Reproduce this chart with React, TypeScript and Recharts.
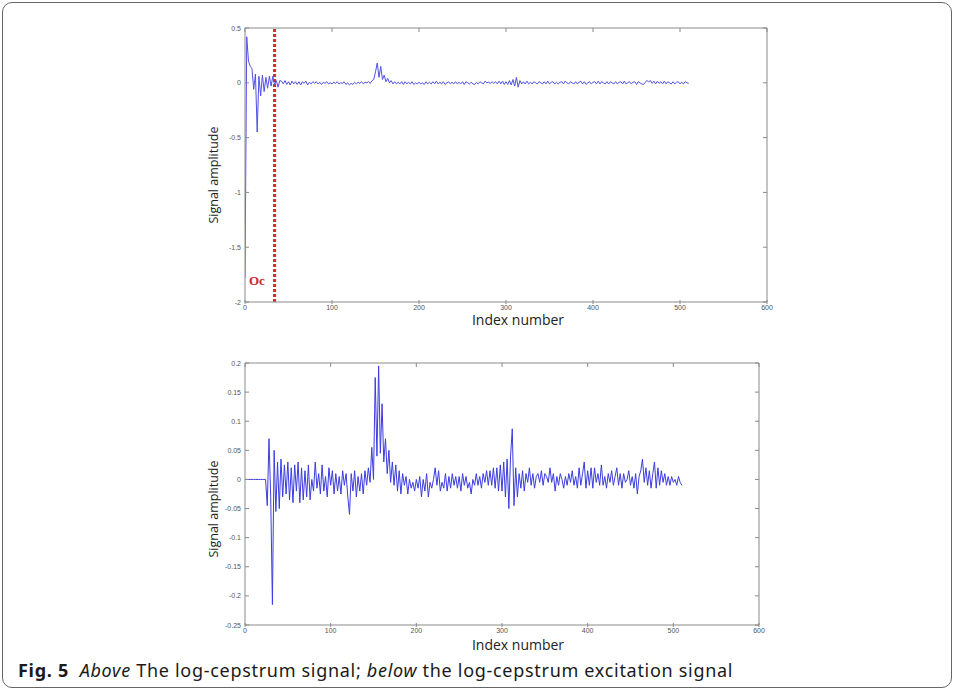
import React from 'react';
import { LineChart, Line, XAxis, YAxis, ReferenceLine } from 'recharts';

// sample step of both signals (index number)
const indexStep = 2;

// Above: log-cepstrum signal, values at index 0,2,4,...,510
const cepstrumValues: number[] = [
  -1.78, 0.42, 0.2, 0.15, 0.13, -0.06, 0.08, -0.45, 0.06, -0.12,
  0.07, -0.08, 0.05, -0.05, 0.06, -0.03, 0.06, -0.02, 0.02, -0.04,
  0.02, 0.015, -0.01, 0.02, -0.015, 0.01, -0.02, 0.015, -0.01, 0.01,
  -0.015, 0.01, -0.02, 0.01, -0.005, 0.015, -0.02, 0.005, -0.01, 0.01,
  -0.005, 0.01, -0.01, 0.005, -0.015, 0.005, -0.005, 0.01, -0.01, 0.0,
  -0.01, 0.005, -0.005, 0.01, -0.01, 0.0, -0.005, 0.01, -0.015, 0.0,
  -0.02, -0.005, -0.015, 0.005, -0.01, 0.005, -0.005, 0.01, -0.01, 0.005,
  0.0, 0.01, -0.005, 0.02, 0.03, 0.1, 0.18, 0.05, 0.15, 0.03,
  0.07, 0.01, 0.04, 0.0, 0.02, -0.01, 0.01, -0.01, 0.005, -0.01,
  0.01, -0.015, 0.01, -0.01, 0.005, -0.01, 0.01, -0.015, 0.0, -0.01,
  0.005, -0.01, 0.0, -0.015, 0.01, -0.01, 0.005, -0.01, 0.01, -0.01,
  0.015, -0.01, 0.005, -0.01, 0.01, -0.015, 0.0, 0.01, -0.01, 0.005,
  -0.01, 0.01, -0.01, 0.005, -0.01, 0.01, -0.015, 0.01, 0.0, -0.01,
  0.005, -0.01, -0.015, 0.005, -0.01, 0.01, 0.0, -0.01, 0.015, 0.0,
  0.005, -0.005, 0.01, -0.005, 0.01, -0.01, 0.015, -0.01, 0.015, -0.015,
  0.01, -0.015, 0.02, -0.02, 0.03, -0.03, 0.05, -0.04, 0.02, -0.01,
  0.01, -0.01, 0.015, -0.01, 0.005, -0.01, 0.01, 0.0, -0.01, 0.01,
  0.0, -0.01, 0.01, -0.01, 0.015, -0.01, 0.005, 0.01, -0.01, 0.005,
  -0.01, 0.005, 0.01, -0.01, 0.015, 0.0, -0.01, 0.01, 0.0, -0.01,
  0.01, -0.01, 0.005, 0.015, -0.01, 0.01, -0.015, 0.0, 0.01, -0.01,
  0.005, 0.01, -0.01, 0.015, -0.01, 0.01, 0.0, -0.01, 0.01, -0.01,
  0.01, 0.0, -0.01, 0.01, -0.01, 0.005, 0.01, -0.01, 0.015, -0.01,
  0.0, 0.01, -0.01, 0.005, 0.01, -0.015, 0.01, 0.0, -0.01, -0.015,
  0.005, 0.02, 0.01, 0.02, -0.005, 0.015, -0.01, 0.015, -0.005, 0.01,
  -0.01, 0.015, -0.01, 0.01, 0.0, -0.01, 0.01, -0.01, 0.005, 0.01,
  -0.01, 0.005, -0.01, 0.01, 0.0, -0.005,
];

// Below: log-cepstrum excitation signal, values at index 0,2,4,...,510
const excitationValues: number[] = [
  0, 0, 0, 0, 0, 0, 0, 0, 0, 0,
  0, 0, 0, -0.045, 0.07, -0.03, -0.215, 0.05, -0.055, 0.03,
  -0.05, 0.035, -0.03, 0.025, -0.025, 0.03, -0.035, 0.02, -0.04, 0.025,
  -0.02, 0.03, -0.04, 0.02, -0.035, 0.015, -0.03, 0.025, -0.035, 0.0,
  -0.02, 0.03, -0.015, 0.01, -0.025, 0.025, -0.02, 0.005, -0.03, 0.02,
  -0.01, 0.015, -0.025, 0.01, -0.02, 0.005, -0.025, 0.015, -0.01, 0.01,
  -0.03, -0.06, 0.01, -0.02, 0.015, -0.03, 0.005, -0.02, 0.01, -0.025,
  0.015, -0.01, 0.02, -0.005, 0.055, 0.0, 0.175, 0.04, 0.195, 0.045,
  0.13, 0.03, 0.07, 0.01, 0.05, -0.005, 0.03, -0.01, 0.025, -0.02,
  0.015, -0.025, 0.01, -0.01, 0.005, -0.025, 0.0, -0.015, -0.005, -0.02,
  0.0, -0.015, 0.005, -0.03, 0.0, -0.02, 0.01, -0.03, -0.005, -0.015,
  0.0, 0.02, -0.01, 0.015, -0.02, -0.005, -0.015, 0.01, -0.02, 0.005,
  -0.015, 0.01, -0.01, 0.005, -0.015, 0.005, -0.02, 0.01, -0.01, 0.005,
  -0.015, -0.005, -0.025, 0.0, -0.01, 0.01, -0.01, 0.005, -0.015, 0.01,
  -0.005, 0.015, -0.01, 0.015, -0.01, 0.02, -0.015, 0.02, -0.02, 0.025,
  -0.02, 0.03, -0.03, 0.035, -0.05, 0.04, 0.087, -0.045, 0.02, -0.03,
  0.01, -0.015, 0.015, -0.02, 0.01, -0.005, 0.02, -0.01, 0.01, -0.015,
  0.005, 0.01, -0.005, 0.015, -0.01, 0.01, 0.005, -0.005, 0.02, -0.005,
  0.01, -0.02, 0.005, -0.01, 0.01, 0.0, -0.015, 0.005, -0.01, 0.01,
  -0.005, 0.015, -0.01, 0.005, -0.015, 0.02, -0.01, 0.01, 0.03, -0.015,
  0.015, -0.01, 0.02, -0.015, 0.02, -0.005, 0.01, -0.01, 0.025, -0.01,
  0.005, -0.015, 0.01, -0.005, 0.015, -0.01, 0.005, 0.02, -0.01, 0.01,
  -0.015, 0.01, -0.005, 0.0, 0.015, -0.01, 0.005, -0.015, 0.01, -0.025,
  0.005, 0.015, 0.035, -0.005, 0.02, -0.01, 0.015, -0.015, 0.01, 0.03,
  -0.015, 0.02, -0.01, 0.015, -0.005, 0.01, -0.01, 0.005, -0.01, 0.005,
  -0.005, 0.0, -0.01, 0.005, -0.005, -0.01,
];

const xTicks = [0, 100, 200, 300, 400, 500, 600];
const topYTicks = [-2, -1.5, -1, -0.5, 0, 0.5];
const bottomYTicks = [-0.25, -0.2, -0.15, -0.1, -0.05, 0, 0.05, 0.1, 0.15, 0.2];
const ocIndex = 34;

const toRows = (vals: number[]) => vals.map((v, i) => ({ idx: i * indexStep, v }));
const topData = toRows(cepstrumValues);
const bottomData = toRows(excitationValues);

const axisColor = '#8a8a8a';
const tickLen = 4;
const yLabelGap = 4;
const tickFontFamily = 'Liberation Sans, Arial, sans-serif';
const titleFont = 'Open Sans, sans-serif';

// MATLAB-style inward ticks drawn with each tick label
const BottomTick = (p: any) => (
  <g>
    <line x1={p.x} x2={p.x} y1={p.y} y2={p.y - tickLen} stroke={axisColor} />
    <text x={p.x} y={p.y + 6} textAnchor="middle" fontSize={7} fill="#555" fontFamily={tickFontFamily}>
      {String(p.payload.value)}
    </text>
  </g>
);
const TopTick = (p: any) => (
  <line x1={p.x} x2={p.x} y1={p.y} y2={p.y + tickLen} stroke={axisColor} />
);
const LeftTick = (p: any) => (
  <g>
    <line x1={p.x + yLabelGap} x2={p.x + yLabelGap + tickLen} y1={p.y} y2={p.y} stroke={axisColor} />
    <text x={p.x} y={p.y + 2.5} textAnchor="end" fontSize={7} fill="#555" fontFamily={tickFontFamily}>
      {String(p.payload.value)}
    </text>
  </g>
);
const RightTick = (p: any) => (
  <line x1={p.x} x2={p.x - tickLen} y1={p.y} y2={p.y} stroke={axisColor} />
);

function Panel(props: {
  data: { idx: number; v: number }[];
  yTicks: number[];
  height: number;
  margin: { top: number; right: number; bottom: number; left: number };
  color: string;
  children?: React.ReactNode;
}) {
  const { data, yTicks, height, margin, color, children } = props;
  const yDomain: [number, number] = [yTicks[0], yTicks[yTicks.length - 1]];
  return (
    <LineChart width={956} height={height} data={data} margin={margin}>
      <XAxis
        dataKey="idx"
        type="number"
        domain={[0, 600]}
        ticks={xTicks}
        allowDataOverflow
        height={20}
        tickSize={0}
        tickMargin={2}
        tickLine={false}
        stroke={axisColor}
        tick={BottomTick}
        interval={0}
      />
      <XAxis
        xAxisId="top"
        dataKey="idx"
        orientation="top"
        type="number"
        domain={[0, 600]}
        ticks={xTicks}
        allowDataOverflow
        height={10}
        tickSize={0}
        tickMargin={0}
        tickLine={false}
        stroke={axisColor}
        tick={TopTick}
        interval={0}
      />
      <YAxis
        type="number"
        domain={yDomain}
        ticks={yTicks}
        allowDataOverflow
        width={64}
        tickSize={0}
        tickMargin={yLabelGap}
        tickLine={false}
        stroke={axisColor}
        tick={LeftTick}
        interval={0}
      />
      <YAxis
        yAxisId="right"
        orientation="right"
        type="number"
        domain={yDomain}
        ticks={yTicks}
        allowDataOverflow
        width={10}
        tickSize={0}
        tickMargin={0}
        tickLine={false}
        stroke={axisColor}
        tick={RightTick}
        interval={0}
      />
      {children}
      <Line
        dataKey="v"
        type="linear"
        stroke={color}
        strokeWidth={1}
        dot={false}
        isAnimationActive={false}
      />
    </LineChart>
  );
}

export default function App() {
  return (
    <div
      style={{
        position: 'absolute',
        left: 0,
        top: 0,
        width: 956,
        height: 694,
        background: '#fff',
        overflow: 'hidden',
      }}
    >
      <div
        style={{
          position: 'absolute',
          left: 2,
          top: 2,
          width: 950,
          height: 686,
          border: '1px solid #666',
          borderRadius: 10,
          boxSizing: 'border-box',
        }}
      />
      <div style={{ position: 'absolute', left: 0, top: 0 }}>
        <Panel
          data={topData}
          yTicks={topYTicks}
          height={340}
          margin={{ top: 18, right: 179, bottom: 18, left: 181 }}
          color="#5050e4"
        >
          <ReferenceLine
            x={ocIndex}
            stroke="#d42a2a"
            strokeWidth={3}
            strokeDasharray="3 2"
          />
        </Panel>
      </div>
      <div style={{ position: 'absolute', left: 0, top: 340 }}>
        <Panel
          data={bottomData}
          yTicks={bottomYTicks}
          height={354}
          margin={{ top: 13, right: 187, bottom: 49, left: 181 }}
          color="#3c3ce0"
        />
      </div>
      <div
        style={{
          position: 'absolute',
          left: 249,
          top: 273,
          color: '#c8282d',
          fontFamily: 'Liberation Serif, serif',
          fontWeight: 'bold',
          fontSize: 13,
        }}
      >
        Oc
      </div>
      {[175, 509].map((cy) => (
        <div
          key={cy}
          style={{
            position: 'absolute',
            left: 213,
            top: cy,
            transform: 'translate(-50%, -50%) rotate(-90deg)',
            whiteSpace: 'nowrap',
            fontFamily: titleFont,
            fontSize: 12.5,
            color: '#222',
          }}
        >
          Signal amplitude
        </div>
      ))}
      {[319, 644].map((cy) => (
        <div
          key={cy}
          style={{
            position: 'absolute',
            left: 518,
            top: cy,
            transform: 'translate(-50%, -50%)',
            whiteSpace: 'nowrap',
            fontFamily: titleFont,
            fontSize: 14,
            lineHeight: '15px',
            color: '#222',
          }}
        >
          Index number
        </div>
      ))}
      <div
        style={{
          position: 'absolute',
          left: 18,
          top: 658,
          whiteSpace: 'nowrap',
          fontFamily: 'Noto Sans, sans-serif',
          fontSize: 18,
          letterSpacing: 0.7,
          color: '#1a1a1a',
        }}
      >
        <b>Fig. 5</b>&nbsp; <i>Above</i> The log-cepstrum signal; <i>below</i> the log-cepstrum excitation signal
      </div>
    </div>
  );
}
